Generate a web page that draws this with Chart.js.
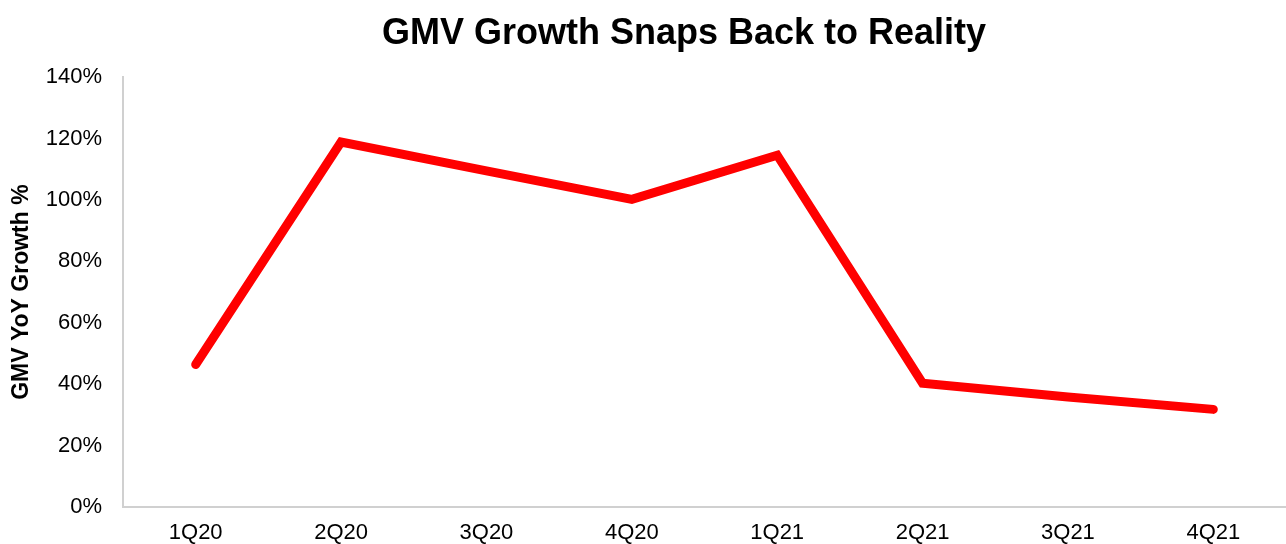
<!DOCTYPE html>
<html><head><meta charset="utf-8">
<script src="https://cdn.jsdelivr.net/npm/chart.js@4/dist/chart.umd.min.js"></script>
<style>html,body{margin:0;padding:0;background:#fff}#w{width:1286px;height:544px}</style>
</head><body><div id="w"><canvas id="c"></canvas></div>
<script>
const categories = ["1Q20","2Q20","3Q20","4Q20","1Q21","2Q21","3Q21","4Q21"];
const gmvGrowth = [46.4, 118.9, 109.5, 100.2, 114.6, 40.3, 35.8, 31.8];
const yTicks = [0,20,40,60,80,100,120,140];
const titleText = "GMV Growth Snaps Back to Reality";
const yTitle = "GMV YoY Growth %";

const shiftTitle = {
  id: 'shiftTitle',
  afterLayout(chart) { if (chart.titleBlock) { chart.titleBlock.left = 82; } }
};

new Chart(document.getElementById('c'), {
  type: 'line',
  data: { labels: categories, datasets: [{ data: gmvGrowth, borderColor: '#FF0000', borderWidth: 9, pointRadius: 0, borderCapStyle: 'round', borderJoinStyle: 'miter', tension: 0, fill: false }] },
  plugins: [shiftTitle],
  options: {
    responsive: true, maintainAspectRatio: false, animation: false,
    layout: { padding: { left: 0, right: 0, top: 0, bottom: 0 } },
    plugins: {
      legend: { display: false }, tooltip: { enabled: false },
      title: { display: true, text: titleText, color: '#000', font: { family: 'Liberation Sans', size: 36, weight: 'bold' }, padding: { top: 12, bottom: 22 } }
    },
    scales: {
      x: { offset: true, grid: { display: false, drawTicks: false }, border: { color: '#d0d0d0', width: 2 },
           afterFit: s => { s.height = 37; },
           ticks: { color: '#000', padding: 13, font: { family: 'Liberation Sans', size: 22 } } },
      y: { min: 0, max: 140, grid: { display: false, drawTicks: false }, border: { color: '#d0d0d0', width: 2 },
           afterFit: s => { s.width = 123; },
           afterBuildTicks: s => { s.ticks = yTicks.map(v => ({ value: v })); },
           ticks: { color: '#000', padding: 21, font: { family: 'Liberation Sans', size: 22 }, callback: v => v + '%' },
           title: { display: true, text: yTitle, color: '#000', font: { family: 'Liberation Sans', size: 23, weight: 'bold' }, padding: { top: 8, bottom: 0 } } }
    }
  }
});
</script></body></html>
